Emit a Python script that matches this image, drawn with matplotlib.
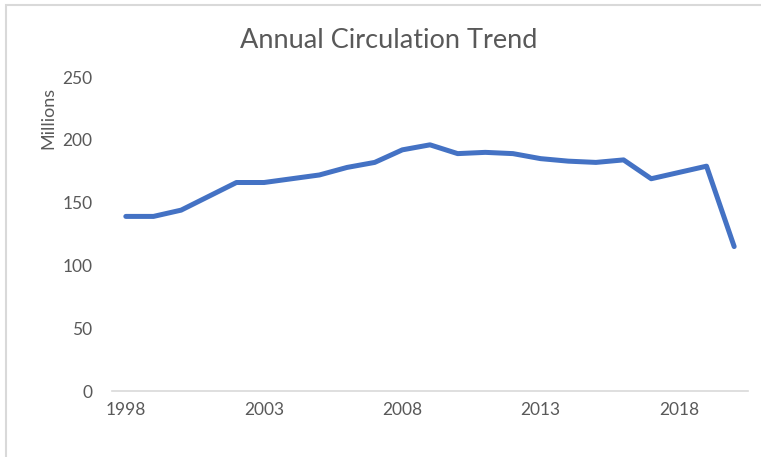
import matplotlib.pyplot as plt
from matplotlib.patches import Rectangle

years = list(range(1998, 2021))
circulation = [139, 139, 144, 155, 166, 166, 169, 172, 178, 182, 192, 196,
               189, 190, 189, 185, 183, 182, 184, 169, 174, 179, 115]
tick_years = [1998, 2003, 2008, 2013, 2018]

plt.rcParams['font.family'] = ['Lato', 'DejaVu Sans']
grey = '#595959'

fig = plt.figure(figsize=(7.61, 4.57), dpi=100)
W, H = 761, 457

# light chart frame like the Excel chart area
fig.patches.append(Rectangle((6 / W, -0.1), 1.1, 1 - 5 / H + 0.1, transform=fig.transFigure,
                             fill=False, edgecolor='#d9d9d9', linewidth=1.5))

ax = fig.add_axes([112 / W, 1 - 391 / H, 636 / W, 314 / H])
x = list(range(len(years)))
ax.plot(x, circulation, color='#4472C4', linewidth=3.6, solid_capstyle='round',
        solid_joinstyle='round')

ax.set_xlim(-0.5, len(years) - 0.5)
ax.set_ylim(0, 250)
ax.set_yticks([0, 50, 100, 150, 200, 250])
ax.set_xticks([years.index(y) for y in tick_years])
ax.set_xticklabels([str(y) for y in tick_years])
ax.tick_params(axis='both', length=0, labelsize=12.5, colors=grey)
ax.tick_params(axis='y', pad=14)
ax.tick_params(axis='x', pad=8)

for s in ['top', 'right', 'left']:
    ax.spines[s].set_visible(False)
ax.spines['bottom'].set_color('#d9d9d9')
ax.spines['bottom'].set_linewidth(1.2)

fig.text(389 / W, 1 - 40 / H, 'Annual Circulation Trend', ha='center', va='center',
         fontsize=19.5, color=grey)
fig.text(48 / W, 1 - 118 / H, 'Millions', rotation=90, ha='center', va='center',
         fontsize=13, color=grey)

fig.savefig('out.png', dpi=100)
